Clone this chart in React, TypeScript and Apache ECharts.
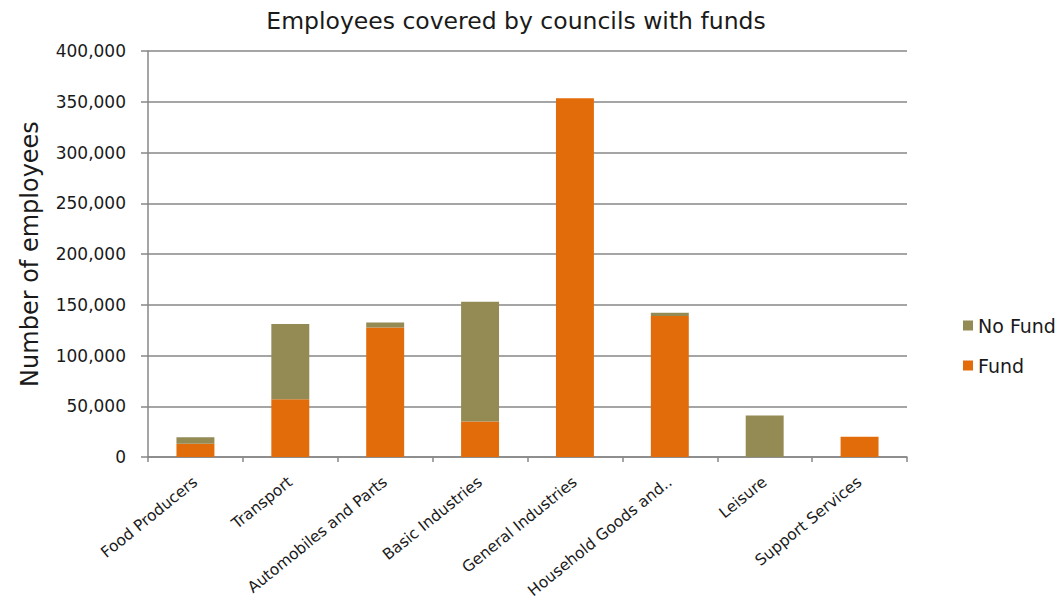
import React, { useEffect, useRef } from "react";
import * as echarts from "echarts";

const categories = [
  "Food Producers",
  "Transport",
  "Automobiles and Parts",
  "Basic Industries",
  "General Industries",
  "Household Goods and..",
  "Leisure",
  "Support Services",
];
const fundValues = [13000, 57000, 127500, 35000, 353500, 139000, 0, 20000];
const noFundValues = [6500, 74000, 5000, 118000, 0, 3200, 41000, 0];

const FONT = "'DejaVu Sans', sans-serif";

export default function App() {
  const ref = useRef<HTMLDivElement>(null);
  useEffect(() => {
    if (!ref.current) return;
    const chart = echarts.init(ref.current, null, { renderer: "svg" });
    chart.setOption({
      animation: false,
      backgroundColor: "#ffffff",
      textStyle: { fontFamily: FONT },
      title: {
        text: "Employees covered by councils with funds",
        left: 511,
        textAlign: "center",
        top: 4,
        textStyle: { fontFamily: FONT, fontSize: 23.5, fontWeight: "normal", color: "#1a1a1a" },
      },
      legend: {
        orient: "vertical",
        left: 958,
        top: 311,
        itemWidth: 10,
        itemHeight: 10,
        itemGap: 21,
        icon: "rect",
        data: ["No Fund", "Fund"],
        textStyle: { fontFamily: FONT, fontSize: 19, color: "#1a1a1a" },
      },
      grid: {
        left: 148,
        right: 156,
        top: 51,
        bottom: 144,
        containLabel: false,
        outerBoundsMode: "none",
      },
      xAxis: {
        type: "category",
        data: categories,
        axisLine: { show: true, lineStyle: { color: "#878787", width: 1.5 } },
        axisTick: { show: true, length: 5, lineStyle: { color: "#878787", width: 1.5 } },
        axisLabel: {
          rotate: 39,
          fontFamily: FONT,
          fontSize: 15.5,
          color: "#1a1a1a",
          margin: 23,
          interval: 0,
        },
      },
      yAxis: {
        type: "value",
        min: 0,
        max: 400000,
        interval: 50000,
        name: "Number of employees",
        nameLocation: "middle",
        nameGap: 106,
        nameTextStyle: { fontFamily: FONT, fontSize: 24, color: "#1a1a1a" },
        axisLine: { show: true, lineStyle: { color: "#878787", width: 1.5 } },
        axisTick: { show: true, length: 7, lineStyle: { color: "#878787", width: 1.5 } },
        axisLabel: {
          fontFamily: FONT,
          fontSize: 17,
          color: "#1a1a1a",
          margin: 22,
          formatter: (v: number) => v.toLocaleString("en-US"),
        },
        splitLine: { show: true, lineStyle: { color: "#878787", width: 1.5 } },
      },
      series: [
        {
          name: "Fund",
          type: "bar",
          stack: "total",
          data: fundValues,
          barWidth: "40%",
          itemStyle: { color: "#E36C0A" },
        },
        {
          name: "No Fund",
          type: "bar",
          stack: "total",
          data: noFundValues,
          barWidth: "40%",
          itemStyle: { color: "#948A54" },
        },
      ],
    });
    return () => chart.dispose();
  }, []);
  return (
    <div
      ref={ref}
      style={{ position: "fixed", left: 0, top: 0, width: 1063, height: 601 }}
    />
  );
}
